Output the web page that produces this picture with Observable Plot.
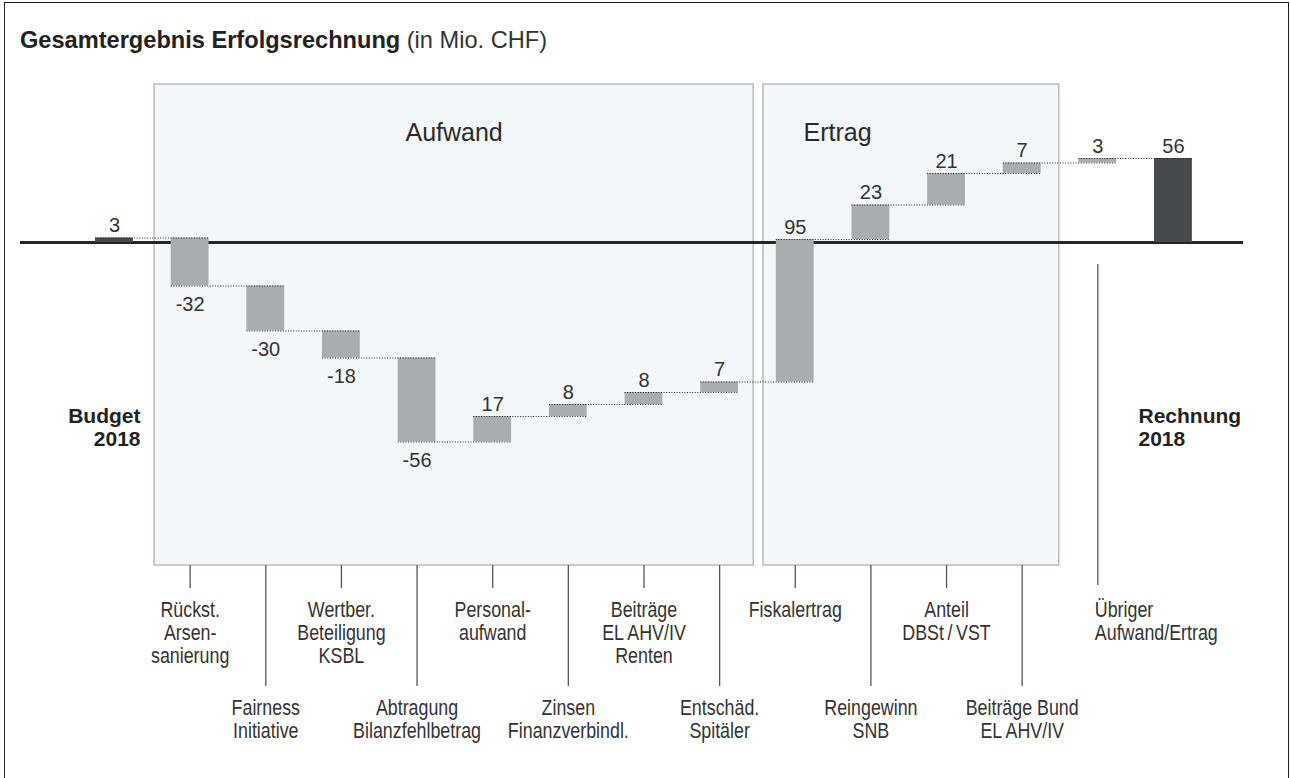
<!DOCTYPE html>
<html><head><meta charset="utf-8">
<script src="https://cdn.jsdelivr.net/npm/d3@7"></script>
<script src="https://cdn.jsdelivr.net/npm/@observablehq/plot@0.6"></script>
<style>
body{margin:0;background:#fff;}
#wrap{position:relative;width:1290px;height:778px;overflow:hidden;background:#fff;}
#frame{position:absolute;left:4px;top:2px;width:1285px;height:778px;border:1px solid #222;box-sizing:border-box;pointer-events:none}
#title{position:absolute;left:20px;top:29px;font:bold 23.6px/22px "Liberation Sans",Arial,sans-serif;color:#222;white-space:nowrap}
#title span{font-weight:normal;color:#333}
#chart{position:absolute;left:0;top:0}
</style></head>
<body>
<div id="wrap"><div id="chart"></div><div id="title">Gesamtergebnis Erfolgsrechnung <span>(in Mio. CHF)</span></div><div id="frame"></div></div>
<script>
// ---- data ----
const categories = ["Budget 2018","Rückst. Arsensanierung","Fairness Initiative","Wertber. Beteiligung KSBL",
  "Abtragung Bilanzfehlbetrag","Personalaufwand","Zinsen Finanzverbindl.","Beiträge EL AHV/IV Renten",
  "Entschäd. Spitäler","Fiskalertrag","Reingewinn SNB","Anteil DBSt / VST","Beiträge Bund EL AHV/IV",
  "Übriger Aufwand/Ertrag","Rechnung 2018"];
const tickLabels = ["Budget\n2018","Rückst.\nArsen-\nsanierung","Fairness\nInitiative","Wertber.\nBeteiligung\nKSBL",
  "Abtragung\nBilanzfehlbetrag","Personal-\naufwand","Zinsen\nFinanzverbindl.","Beiträge\nEL AHV/IV\nRenten",
  "Entschäd.\nSpitäler","Fiskalertrag","Reingewinn\nSNB","Anteil\nDBSt\u2009/\u2009VST","Beiträge Bund\nEL AHV/IV",
  "Übriger\nAufwand/Ertrag","Rechnung\n2018"];
const values = [3,-32,-30,-18,-56,17,8,8,7,95,23,21,7,3,56];
const kinds  = ["total","step","step","step","step","step","step","step","step","step","step","step","step","step","total"];
const groupNames = ["Aufwand","Ertrag"];
const groupMembers = [[1,8],[9,12]];

// ---- layout (pixels) ----
const W = 1290, H = 778, zeroPx = 242, pxPerUnit = 1.5, firstCenter = 114, step = 75.64;
const toV = px => (zeroPx - px) / pxPerUnit;   // pixel row -> value units
const xDomain = [-firstCenter/step, (W - firstCenter)/step];
const yDomain = [toV(H), toV(0)];
const boxTop = toV(84), boxBottom = toV(565);
const boxPad = [[0.47,0.45],[0.42,0.49]];

// ---- derived table ----
let cum = 0;
const rows = values.map((v,i) => {
  let y1, y2;
  if (kinds[i] === "total") { y1 = 0; y2 = v; cum = v; }
  else { y1 = cum; y2 = cum + v; cum += v; }
  return {i, name: categories[i], label: tickLabels[i], v, y1, y2, kind: kinds[i],
          text: String(v), hi: Math.max(y1,y2), lo: Math.min(y1,y2)};
});
const connectors = rows.slice(0,-1).map(r => ({x1: r.i - 0.25, x2: r.i + 1.25, y: r.y2}));
const boxes = groupNames.map((g,k) => ({name: g, x1: groupMembers[k][0] - boxPad[k][0], x2: groupMembers[k][1] + boxPad[k][1]}));
const inner = rows.filter(r => r.kind === "step");
const ticks = inner.map(r => {
  if (r.i === 13) return {x: r.i, y1: toV(264), y2: toV(585), row: 1};
  const row = (r.i % 2 === 1) ? 1 : 2;
  return {x: r.i, y1: boxBottom, y2: row === 1 ? toV(588) : toV(686), row};
});
const labelRows = inner.map((r,k) => ({...r, row: ticks[k].row}));

const sans = '"Liberation Sans", Arial, Helvetica, sans-serif';

const chart = Plot.plot({
  width: W, height: H, margin: 0,
  x: {domain: xDomain, axis: null},
  y: {domain: yDomain, axis: null},
  style: {background: "transparent", fontFamily: sans},
  marks: [
    Plot.rect(boxes, {x1: "x1", x2: "x2", y1: boxTop, y2: boxBottom, fill: "#f3f7fa", stroke: "#b7bcc1", strokeWidth: 1.5}),
    Plot.text(boxes.slice(0,1), {x: d => (d.x1 + d.x2)/2, y: toV(135), dy: 5, text: "name", fontSize: 25, fill: "#2a2a2a", lineAnchor: "bottom", textAnchor: "middle"}),
    Plot.text(boxes.slice(1), {x: "x1", y: toV(135), dy: 5, dx: 40, text: "name", fontSize: 25, fill: "#2a2a2a", lineAnchor: "bottom", textAnchor: "start"}),
    Plot.ruleY([0], {x1: (20-firstCenter)/step, x2: (1243-firstCenter)/step, stroke: "#262626", strokeWidth: 3}),
    Plot.rect(rows, {x1: d => d.i - 0.25, x2: d => d.i + 0.25, y1: "y1", y2: "y2",
      fill: d => d.kind === "total" ? "#46494d" : "#a9acb1"}),
    Plot.ruleY(connectors, {x1: "x1", x2: "x2", y: "y", stroke: "#222", strokeWidth: 1, strokeDasharray: "1,1.6"}),
    Plot.ruleX(ticks, {x: "x", y1: "y1", y2: "y2", stroke: "#555", strokeWidth: 1.3}),
    Plot.text(rows.filter(r => r.v >= 0), {x: "i", y: "hi", text: "text", fontSize: 20, fill: "#333", lineAnchor: "bottom", dy: -6}),
    Plot.text(rows.filter(r => r.v < 0), {x: "i", y: "lo", text: "text", fontSize: 20, fill: "#333", lineAnchor: "top", dy: 11}),
    Plot.text(labelRows.filter(r => r.i !== 13), {x: "i", text: "label", className: "narrow",
      fontSize: 21.5, lineHeight: 1.07, fill: "#333", lineAnchor: "top",
      y: d => d.row === 1 ? toV(600) : toV(698)}),
    Plot.text(labelRows.filter(r => r.i === 13), {x: "i", dx: -3, y: toV(600), text: "label", className: "narrow",
      fontSize: 21.5, lineHeight: 1.07, fill: "#333", lineAnchor: "top", textAnchor: "start"}),
    Plot.text(rows.slice(0,1), {x: "i", dx: 26, y: toV(406), text: "label", fontSize: 21, fontWeight: "bold",
      lineHeight: 1.1, fill: "#222", lineAnchor: "top", textAnchor: "end"}),
    Plot.text(rows.slice(-1), {x: "i", dx: -35, y: toV(406), text: "label", fontSize: 21, fontWeight: "bold",
      lineHeight: 1.1, fill: "#222", lineAnchor: "top", textAnchor: "start"})
  ]
});
// condensed look for the category labels (no narrow font installed)
chart.querySelectorAll("g.narrow text").forEach(t => {
  const tr = t.getAttribute("transform") || "";
  t.setAttribute("transform", tr + " scale(0.83,1)");
});
document.getElementById("chart").appendChild(chart);
</script>
</body></html>
